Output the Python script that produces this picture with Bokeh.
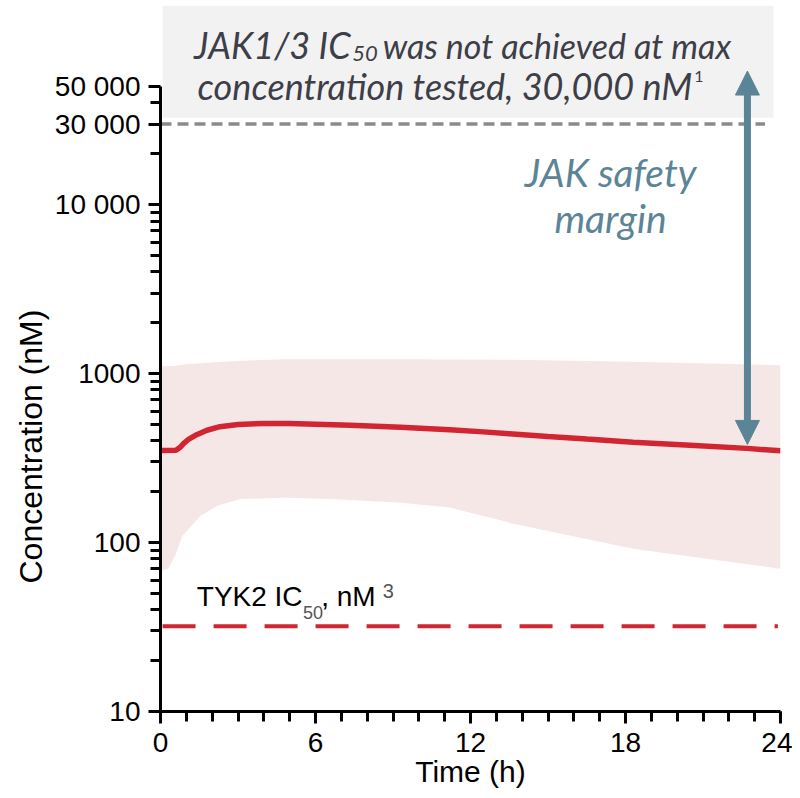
from bokeh.plotting import figure
from bokeh.models import (FixedTicker, Label, BoxAnnotation, Arrow, NormalHead,
                          Range1d, Title)
from bokeh.embed import file_html
from bokeh.resources import INLINE

# ---------------- data ----------------
curve_time = [0, 0.6, 0.75, 0.9, 1.1, 1.4, 1.8, 2.3, 3.0, 4.0, 5.0, 7.35, 9.3, 11.2,
              12.5, 13.5, 15.0, 16.5, 18.3, 20.5, 22.7, 24]
curve_conc = [351, 352, 365, 386, 410, 435, 462, 485, 500, 507, 506, 494, 481, 466,
              452, 441, 425, 410, 393, 377, 361, 349]

band_time = [0, 0.3, 0.58, 0.85, 1.0, 1.55, 2.2, 3.1, 4.8, 6.6, 9.3, 11.2, 13.2, 13.7, 18.3, 24]
band_low = [68, 70, 84, 110, 116, 144, 165, 181, 184, 181, 172, 161, 135, 129, 92, 70]
band_high = [1107, 1110, 1115, 1130, 1137, 1150, 1170, 1190, 1216, 1216, 1216, 1214, 1210, 1208, 1175, 1122]

jak_ic50 = 30000       # nM, max concentration tested
tyk2_ic50 = 32         # nM
arrow_top = 61800
arrow_bottom = 381

y_ticks = [10, 100, 1000, 10000, 30000, 50000]
y_tick_labels = ["10", "100", "1000", "10 000", "30 000", "50 000"]
y_minor = [20, 30, 40, 50, 60, 70, 80, 90, 200, 300, 400, 500, 600, 700, 800, 900,
           2000, 3000, 4000, 5000, 6000, 7000, 8000, 9000, 20000, 40000]
x_ticks = [0, 6, 12, 18, 24]
x_minor = list(range(0, 25))

RED = "#d12631"
BAND = "#f6e7e7"
TEAL = "#5b8596"
GREY_TXT = "#3d3e48"

p = figure(width=792, height=790, output_backend="svg", toolbar_location=None,
           y_axis_type="log", x_range=Range1d(0, 24), y_range=Range1d(10, 151000),
           min_border_left=160, min_border_right=12, min_border_top=5,
           min_border_bottom=72)
p.outline_line_color = None
p.xgrid.visible = False
p.ygrid.visible = False
p.background_fill_color = "white"

# box with JAK text
p.add_layout(BoxAnnotation(left=0.08, right=23.73, bottom=32700,
                           fill_color="#f2f2f2", fill_alpha=1, line_color=None, level="underlay"))

# variability band
p.varea(x=band_time, y1=band_low, y2=band_high, fill_color=BAND, fill_alpha=1)

# mean curve
p.line(curve_time, curve_conc, line_color=RED, line_width=5.5)

# JAK dashed line
p.line([0, 23.4], [jak_ic50, jak_ic50], line_color="#8a8a8a", line_width=3.5, line_dash="11 6")
# TYK2 dashed line
p.line([0.08, 23.9], [tyk2_ic50, tyk2_ic50], line_color=RED, line_width=4, line_dash="33 18")

# safety margin arrow
p.add_layout(Arrow(x_start=22.72, y_start=arrow_bottom, x_end=22.72, y_end=arrow_top,
                   line_color=TEAL, line_width=7,
                   start=NormalHead(size=24, fill_color=TEAL, line_color=TEAL),
                   end=NormalHead(size=24, fill_color=TEAL, line_color=TEAL)))

# axes
p.yaxis.ticker = FixedTicker(ticks=y_ticks, minor_ticks=y_minor)
p.yaxis.major_label_overrides = {t: l for t, l in zip(y_ticks, y_tick_labels)}
p.yaxis.bounds = (10, 50000)
p.xaxis.ticker = FixedTicker(ticks=x_ticks, minor_ticks=x_minor)
p.xaxis.bounds = (0, 24)
for ax in (p.xaxis, p.yaxis):
    ax.axis_line_width = 3
    ax.axis_line_color = "black"
    ax.major_tick_line_width = 3
    ax.minor_tick_line_width = 3
    ax.major_tick_in = 0
    ax.minor_tick_in = 0
    ax.major_tick_out = 12
    ax.minor_tick_out = 10
    ax.major_label_text_font = "Liberation Sans"
    ax.major_label_text_color = "black"
p.yaxis.major_label_text_font_size = "28px"
p.xaxis.major_label_text_font_size = "28px"
p.yaxis.major_label_standoff = 8
p.xaxis.major_label_standoff = 9
p.xaxis.axis_label = "Time (h)"
p.xaxis.axis_label_text_font = "Liberation Sans"
p.xaxis.axis_label_text_font_style = "normal"
p.xaxis.axis_label_text_font_size = "30px"
p.xaxis.axis_label_text_color = "black"
p.xaxis.axis_label_standoff = 0

# y axis title
p.add_layout(Title(text="Concentration (nM)", align="left", offset=128,
                   text_font="Liberation Sans", text_font_style="normal",
                   text_font_size="32px", text_color="black", standoff=6), "left")

# top box text
TF = "Lato"
p.add_layout(Label(x=7.36, y=87700, text="JAK1/3 IC", text_align="right",
                   text_font=TF, text_font_style="italic", text_font_size="36px",
                   text_color=GREY_TXT, text_baseline="alphabetic"))
p.add_layout(Label(x=7.42, y=78200, text="50", text_align="left",
                   text_font=TF, text_font_style="italic", text_font_size="22px",
                   text_color=GREY_TXT, text_baseline="alphabetic"))
p.add_layout(Label(x=8.6, y=87700, text="was not achieved at max", text_align="left",
                   text_font=TF, text_font_style="italic", text_font_size="34px",
                   text_color=GREY_TXT, text_baseline="alphabetic"))
p.add_layout(Label(x=20.6, y=50400, text="concentration tested, 30,000 nM", text_align="right",
                   text_font=TF, text_font_style="italic", text_font_size="36px",
                   text_color=GREY_TXT, text_baseline="alphabetic"))
p.add_layout(Label(x=20.66, y=57700, text="1", text_align="left",
                   text_font=TF, text_font_size="16px",
                   text_color=GREY_TXT, text_baseline="alphabetic"))

# JAK safety margin
for txt, yy in (("JAK safety", 15570), ("margin", 8370)):
    p.add_layout(Label(x=17.42, y=yy, text=txt, text_align="center",
                       text_font=TF, text_font_style="italic", text_font_size="39px",
                       text_color=TEAL, text_baseline="alphabetic"))

# TYK2 label
p.add_layout(Label(x=5.50, y=47.7, text="TYK2 IC", text_align="right",
                   text_font="Liberation Sans", text_font_size="28px",
                   text_color="black", text_baseline="alphabetic"))
p.add_layout(Label(x=5.52, y=38.5, text="50", text_align="left",
                   text_font="Liberation Sans", text_font_size="18px",
                   text_color="#555555", text_baseline="alphabetic"))
p.add_layout(Label(x=6.22, y=47.7, text=", nM", text_align="left",
                   text_font="Liberation Sans", text_font_size="28px",
                   text_color="black", text_baseline="alphabetic"))
p.add_layout(Label(x=8.6, y=51.5, text="3", text_align="left",
                   text_font="Liberation Sans", text_font_size="20px",
                   text_color="#555555", text_baseline="alphabetic"))

open("out.html", "w").write(file_html(p, INLINE))
